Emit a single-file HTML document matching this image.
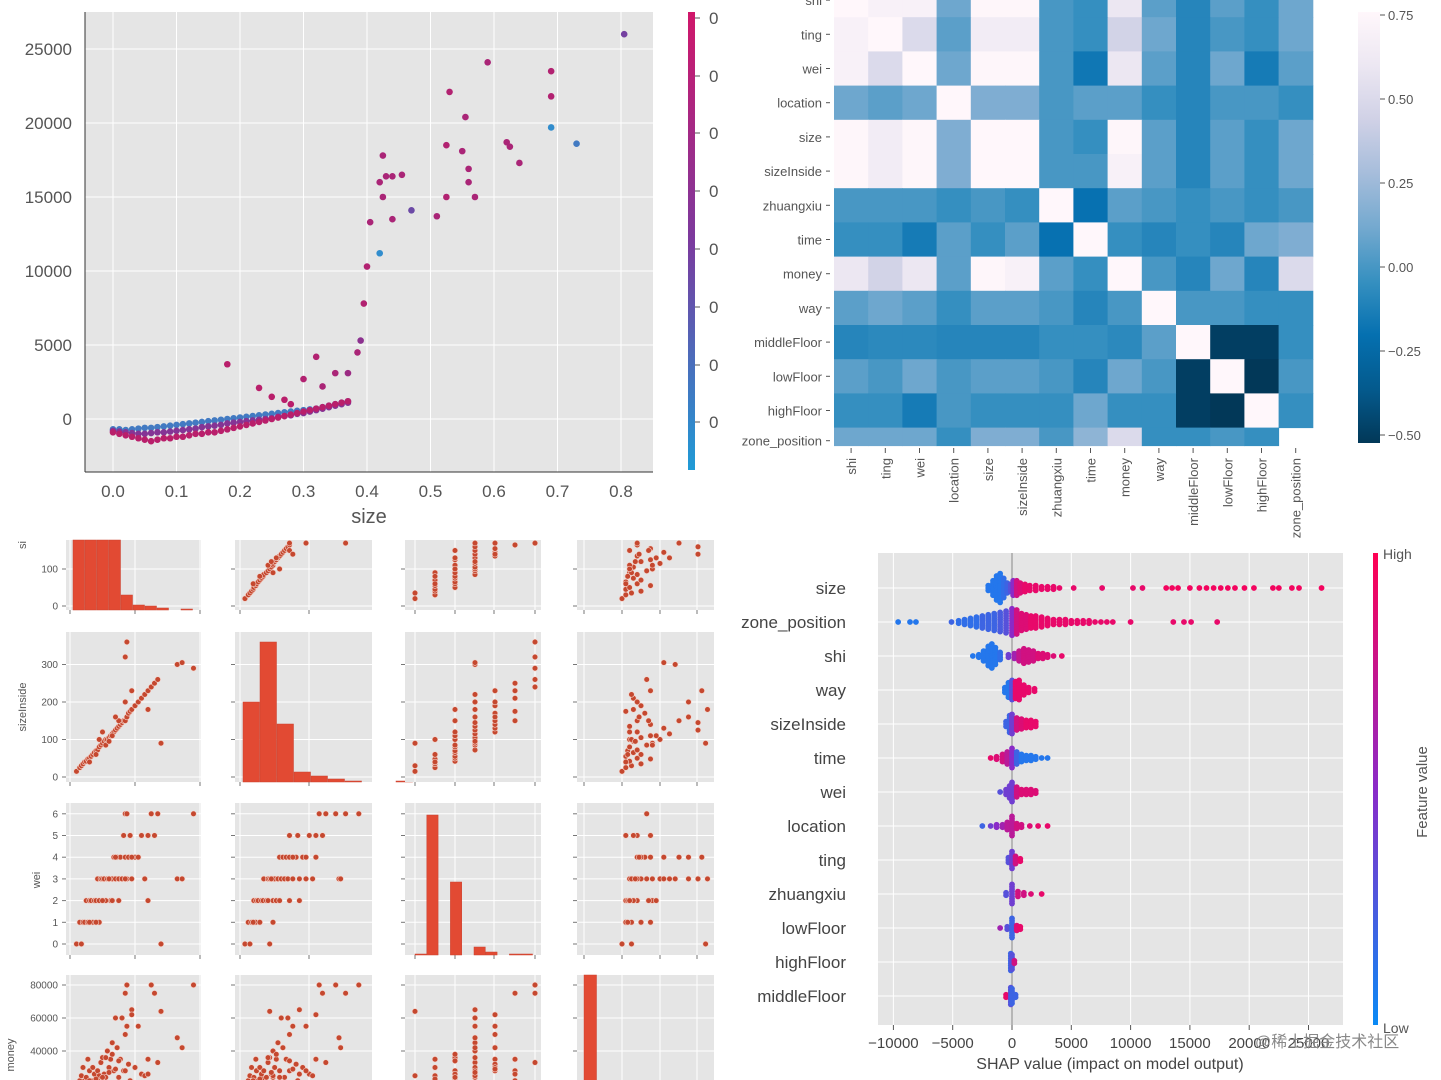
<!DOCTYPE html>
<html><head><meta charset="utf-8"><style>
html,body{margin:0;padding:0;background:#fff;}
svg{display:block;font-family:"Liberation Sans","DejaVu Sans","Noto Sans CJK SC",sans-serif;}
</style></head><body>
<svg id="c" width="1441" height="1080" viewBox="0 0 1441 1080">
<defs>
<linearGradient id="gDep" x1="0" y1="0" x2="0" y2="1"><stop offset="0" stop-color="#d0176a"/><stop offset="0.5" stop-color="#7b3a9e"/><stop offset="1" stop-color="#1f9bd6"/></linearGradient>
<linearGradient id="gShap" x1="0" y1="0" x2="0" y2="1"><stop offset="0" stop-color="#ff0052"/><stop offset="0.5" stop-color="#8a2bc8"/><stop offset="1" stop-color="#0a8af5"/></linearGradient>
<linearGradient id="gHeat" x1="0" y1="1" x2="0" y2="0"><stop offset="0" stop-color="#023858"/><stop offset="0.125" stop-color="#045a8d"/><stop offset="0.25" stop-color="#0570b0"/><stop offset="0.375" stop-color="#3690c0"/><stop offset="0.5" stop-color="#74a9cf"/><stop offset="0.625" stop-color="#a6bddb"/><stop offset="0.75" stop-color="#d0d1e6"/><stop offset="0.875" stop-color="#ece7f2"/><stop offset="1" stop-color="#fff7fb"/></linearGradient>
<clipPath id="clipDep"><rect x="85" y="12" width="568" height="460"/></clipPath>
</defs>
<g id="dep"></g>
<g id="heat"></g>
<g id="pair"></g>
<g id="shap"></g>
<text x="1255" y="1047" font-size="16" fill="#888">@稀土掘金技术社区</text>
</svg>
<script>
// ---------- data: dependence plot ----------
const depBandX=[0,0.01,0.02,0.03,0.04,0.05,0.06,0.07,0.08,0.09,0.10,0.11,0.12,0.13,0.14,0.15,0.16,0.17,0.18,0.19,0.20,0.21,0.22,0.23,0.24,0.25,0.26,0.27,0.28,0.29,0.30,0.31,0.32,0.33,0.34,0.35,0.36,0.37];
const depBandHigh=[-700,-700,-750,-700,-650,-600,-600,-550,-500,-450,-400,-350,-300,-250,-200,-150,-100,-50,0,50,100,150,200,250,300,350,400,450,500,550,600,650,700,800,900,1000,1100,1200];
const depBandMid=[-800,-850,-900,-950,-1000,-1000,-950,-900,-900,-850,-800,-750,-700,-650,-550,-500,-450,-400,-300,-250,-200,-150,-100,-50,0,50,150,200,250,350,400,500,600,700,800,900,1000,1100];
const depBandLow=[-900,-1000,-1100,-1200,-1300,-1400,-1500,-1400,-1300,-1300,-1200,-1200,-1100,-1000,-1000,-900,-900,-800,-700,-600,-500,-400,-300,-200,-100,0,100,200,300,400,500,600,700,800,900,1000,1100,1200];
const depOutX=[0.18,0.23,0.30,0.32,0.33,0.35,0.37,0.385,0.39,0.395,0.40,0.405,0.42,0.425,0.425,0.43,0.44,0.455,0.44,0.51,0.525,0.525,0.53,0.55,0.555,0.56,0.56,0.57,0.59,0.62,0.625,0.64,0.69,0.69,0.27,0.28,0.25,0.42,0.47,0.69,0.73,0.805];
const depOutY=[3700,2100,2700,4200,2200,3100,3100,4500,5300,7800,10300,13300,16000,17800,15000,16400,13500,16500,16400,13700,18500,15000,22100,18100,20400,16900,16000,15000,24100,18700,18400,17300,23500,21800,1300,1000,1500,11200,14100,19700,18600,26000];
const depOutC=[0.9,0.9,0.85,0.85,0.8,0.8,0.7,0.8,0.6,0.85,0.85,0.8,0.8,0.8,0.8,0.8,0.8,0.8,0.8,0.8,0.85,0.85,0.85,0.8,0.8,0.8,0.8,0.8,0.8,0.8,0.8,0.8,0.85,0.85,0.9,0.9,0.9,0.05,0.4,0.05,0.15,0.45];
const depXTicks=[0,0.1,0.2,0.3,0.4,0.5,0.6,0.7,0.8];
const depYTicks=[0,5000,10000,15000,20000,25000];

// ---------- data: heatmap ----------
const heatVars=["shi","ting","wei","location","size","sizeInside","zhuangxiu","time","money","way","middleFloor","lowFloor","highFloor","zone_position"];
const heatVals=[
[1,.7,.7,.1,.75,.75,0,-.05,.6,.05,-.1,.05,-.05,.1],
[.7,1,.5,.05,.65,.65,0,-.05,.45,.1,-.1,0,-.05,.1],
[.7,.5,1,.1,.75,.75,0,-.17,.6,.05,-.1,.1,-.15,.05],
[.1,.05,.1,1,.15,.15,0,.05,.05,-.05,-.1,0,0,-.05],
[.75,.65,.75,.15,1,.95,0,-.05,.75,.05,-.1,.05,-.05,.1],
[.75,.65,.75,.15,.95,1,0,0,.7,.05,-.1,.05,-.05,.1],
[0,0,0,-.05,0,-.05,1,-.2,.05,0,-.05,0,-.05,0],
[-.05,-.05,-.15,.05,-.05,.05,-.2,1,-.05,-.1,-.05,-.1,.1,.15],
[.6,.45,.6,.05,.75,.7,.05,-.05,1,0,-.1,.1,-.1,.5],
[.05,.1,.05,-.05,.05,.05,0,-.1,0,1,0,0,-.05,-.05],
[-.1,-.08,-.08,-.1,-.1,-.1,-.05,-.05,-.08,.05,1,-.5,-.5,-.05],
[.05,0,.1,0,.05,.05,0,-.1,.1,0,-.5,1,-.55,0],
[-.05,-.05,-.15,0,-.05,-.05,-.05,.1,-.05,-.05,-.5,-.55,1,-.05],
[.1,.1,.1,-.05,.15,.15,0,.2,.5,-.05,-.05,0,-.05,null]];
const heatTicks=[0.75,0.50,0.25,0.00,-0.25,-0.50];

// ---------- data: pair plot (size, sizeInside, wei, money/1000) ----------
const pairSize=[20,30,35,40,45,50,55,60,65,70,75,80,85,90,95,100,105,110,115,120,125,130,135,140,145,150,155,160,165,170,175,180,185,190,200,210,220,230,240,250,260,270,190,170,175,330,345,380,280,240,60,90,110,130,150,170,120,100,80,140];
const pairInside=[15,25,30,35,40,42,48,50,55,60,65,70,72,80,85,90,95,100,100,105,110,115,120,125,130,135,140,145,150,150,160,170,175,180,190,200,210,220,230,240,250,260,230,320,360,300,305,290,90,180,40,100,85,110,150,200,95,120,60,160];
const pairWei=[0,1,0,1,1,2,1,2,2,1,2,2,3,2,3,3,3,2,3,3,2,3,4,3,4,3,4,3,5,4,3,4,5,3,4,4,5,3,5,6,5,6,4,6,6,3,3,6,0,2,1,1,2,2,2,3,3,2,1,4];
const pairMoney=[20,22,25,30,22,24,35,28,22,30,26,23,28,24,33,36,26,24,40,30,35,45,28,60,42,24,35,60,28,50,55,32,22,65,30,55,26,25,35,80,75,33,62,75,80,48,42,80,64,26,22,25,36,38,34,28,27,24,23,29];
const histSize=[300,300,300,85,15,5,4,2,0,1,0];
const histInside=[80,140,58,10,6,3,1,0,0,1];
const histWei=[1,140,0,73,0,8,3,0,1,1];
const histMoney=[300,0,0,0,0,0,0,0,0,0];

// ---------- data: SHAP summary ----------
const shapFeatures=["size","zone_position","shi","way","sizeInside","time","wei","location","ting","zhuangxiu","lowFloor","highFloor","middleFloor"];
const shapPts=[
[[-2,.1,3],[-1.6,.1,7],[-1.3,.1,11],[-1,.1,13],[-0.7,.15,9],[-0.4,.2,5],[-0.1,.3,4],[0.1,.5,7],[0.4,.8,7],[0.7,.85,5],[1.1,.9,4],[1.5,.9,3],[2,.9,3],[2.5,.9,2],[3,.9,2],[3.5,.9,2],[4,.9,1],[5.2,.9,1],[7.6,.9,1],[10.2,.9,1],[11,.9,1],[13,.95,1],[13.5,.95,1],[14,.95,1],[15,.95,1],[15.8,.95,1],[16.4,.95,1],[17,.95,1],[17.6,.95,1],[18.2,.95,1],[18.8,.95,1],[19.6,.95,1],[20.4,.95,1],[22,.95,1],[22.5,.95,1],[23.6,.95,1],[24.2,.95,1],[26.1,.95,1]],
[[-9.6,.1,1],[-8.6,.1,1],[-8.1,.1,1],[-5.1,.2,1],[-4.5,.15,2],[-4,.15,3],[-3.5,.15,4],[-3,.15,5],[-2.5,.2,6],[-2,.2,7],[-1.5,.2,8],[-1,.25,9],[-0.5,.3,10],[0,.5,12],[0.4,.8,11],[0.8,.85,8],[1.2,.85,7],[1.6,.9,6],[2,.9,6],[2.5,.9,5],[3,.9,4],[3.5,.9,3],[4,.9,3],[4.5,.9,3],[5,.9,2],[5.5,.9,2],[6,.9,2],[6.5,.9,2],[7,.9,1],[7.5,.9,1],[8,.9,1],[8.5,.9,1],[10,.9,1],[13.6,.9,1],[14.5,.9,1],[15.1,.9,1],[17.3,.9,1]],
[[-3.3,.1,1],[-2.8,.1,2],[-2.4,.1,5],[-2,.1,9],[-1.7,.1,11],[-1.4,.1,8],[-1,.15,4],[-0.3,.4,2],[0.2,.6,3],[0.6,.75,5],[1,.8,7],[1.4,.8,6],[1.8,.8,5],[2.2,.85,3],[2.6,.85,3],[3,.85,2],[3.5,.85,1],[4.2,.9,1]],
[[-0.6,.1,3],[-0.3,.1,7],[0,.3,9],[0.3,.9,8],[0.6,.9,9],[1,.9,5],[1.4,.9,3],[1.9,.9,2]],
[[-0.5,.2,3],[-0.2,.2,8],[0,.4,9],[0.4,.8,6],[0.8,.85,5],[1.2,.9,4],[1.6,.9,4],[2,.9,3]],
[[-1.8,.9,1],[-1.3,.85,2],[-0.8,.8,4],[-0.4,.7,6],[0,.5,9],[0.4,.2,6],[0.8,.1,4],[1.2,.1,3],[1.6,.1,3],[2,.1,2],[2.5,.1,1],[3,.1,1]],
[[-1,.3,1],[-0.5,.4,3],[-0.2,.4,6],[0,.4,9],[0.4,.8,5],[0.8,.85,3],[1.2,.85,3],[1.6,.85,3],[2,.85,2]],
[[-2.5,.2,1],[-1.8,.4,1],[-1.3,.5,2],[-0.8,.6,2],[-0.4,.7,4],[0,.7,9],[0.4,.8,3],[0.8,.8,2],[1.5,.85,1],[2.2,.9,1],[3,.9,1]],
[[-0.3,.3,3],[0,.4,8],[0.3,.8,4],[0.7,.9,2]],
[[-0.5,.3,2],[0,.4,9],[0.5,.8,3],[1,.8,2],[1.6,.85,1],[2.5,.9,1]],
[[-1,.6,1],[-0.4,.3,2],[0,.2,9],[0.4,.85,3],[0.7,.9,2]],
[[-0.1,.2,8],[0,.3,7],[0.2,.8,2]],
[[-0.5,.9,2],[-0.1,.3,8],[0,.2,7],[0.3,.2,2]]];
const shapTicks=[-10000,-5000,0,5000,10000,15000,20000,25000];

// ---------- helpers ----------
const NS="http://www.w3.org/2000/svg";
function mk(parent,tag,attrs,text){const e=document.createElementNS(NS,tag);for(const k in attrs)e.setAttribute(k,attrs[k]);if(text!==undefined)e.textContent=text;parent.appendChild(e);return e;}
function lerp(a,b,t){return a+(b-a)*t;}
function mix(c1,c2,t){return "rgb("+[0,1,2].map(i=>Math.round(lerp(c1[i],c2[i],t))).join(",")+")";}
function depColor(c){const b=[40,150,210],p=[125,55,155],r=[200,25,95];return c<0.5?mix(b,p,c*2):mix(p,r,(c-0.5)*2);}
function shapColor(c){const b=[10,138,245],p=[138,43,200],r=[255,0,82];return c<0.5?mix(b,p,c*2):mix(p,r,(c-0.5)*2);}
const heatStops=[[2,56,88],[4,90,141],[5,112,176],[54,144,192],[116,169,207],[166,189,219],[208,209,230],[236,231,242],[255,247,251]];
const hMin=-0.53,hMax=0.76;
function heatColor(v){let t=(v-hMin)/(hMax-hMin);t=Math.max(0,Math.min(1,t));const f=t*8,i=Math.min(7,Math.floor(f));return mix(heatStops[i],heatStops[i+1],f-i);}

// ---------- dependence plot ----------
(function(){
const g=document.getElementById('dep');
const xs=v=>113+v*635, ys=v=>419-v*0.0148;
mk(g,'rect',{x:85,y:12,width:568,height:460,fill:'#e5e5e5'});
depXTicks.forEach(t=>{mk(g,'line',{x1:xs(t),x2:xs(t),y1:12,y2:472,stroke:'#fff','stroke-width':1});
 const l=mk(g,'text',{x:xs(t),y:497,'font-size':17,fill:'#555','text-anchor':'middle'},t.toFixed(1));
 
 });
depYTicks.forEach(t=>{mk(g,'line',{x1:85,x2:653,y1:ys(t),y2:ys(t),stroke:'#fff','stroke-width':1});
 const l=mk(g,'text',{x:72,y:ys(t)+6,'font-size':17,fill:'#555','text-anchor':'end'},String(t));
 
 });
mk(g,'line',{x1:85,x2:85,y1:12,y2:472,stroke:'#333'});
mk(g,'line',{x1:85,x2:653,y1:472,y2:472,stroke:'#333'});
const xl=mk(g,'text',{x:369,y:523,'font-size':20,fill:'#555','text-anchor':'middle'},'size');


const pts=mk(g,'g',{'clip-path':'url(#clipDep)'});


[[depBandHigh,0.15],[depBandMid,0.55],[depBandLow,0.9]].forEach(([arr,c])=>{
 depBandX.forEach((x,i)=>{const p=mk(pts,'circle',{cx:xs(x),cy:ys(arr[i]),r:3.3,fill:depColor(c)});
 
 });});
depOutX.forEach((x,i)=>{const p=mk(pts,'circle',{cx:xs(x),cy:ys(depOutY[i]),r:3.3,fill:depColor(depOutC[i])});
 
 });
const cb=mk(g,'rect',{x:688,y:12,width:7,height:458,fill:'url(#gDep)'});


[18,76,133,191,249,307,365,422].forEach(y=>{mk(g,'line',{x1:695,x2:700,y1:y,y2:y,stroke:'#555'});
 mk(g,'text',{x:709,y:y+6,'font-size':17,fill:'#555'},'0');});
})();

// ---------- heatmap ----------
(function(){
const g=document.getElementById('heat');
const x0=834,cw=34.2,y0=-17,ch=34.2;
heatVals.forEach((row,r)=>{row.forEach((v,c)=>{if(v===null)return;
 const h=r===13?18:ch;
 const cell=mk(g,'rect',{x:x0+c*cw,y:y0+r*ch,width:cw+0.5,height:h+0.5,fill:heatColor(v)});
 
 });});
heatVars.forEach((n,i)=>{
 const yl=mk(g,'text',{x:822,y:y0+i*ch+ch/2+5-(i===13?4:0),'font-size':13,fill:'#555','text-anchor':'end'},n);
 
 
 mk(g,'line',{x1:826,x2:830,y1:y0+i*ch+ch/2-(i===13?4:0),y2:y0+i*ch+ch/2-(i===13?4:0),stroke:'#555'});
 const cx=x0+i*cw+cw/2;
 mk(g,'line',{x1:cx,x2:cx,y1:448,y2:453,stroke:'#555'});
 const xl=mk(g,'text',{x:0,y:0,'font-size':13,fill:'#555','text-anchor':'end',transform:`translate(${cx+5},458) rotate(-90)`},n);
 
 });
const cb=mk(g,'rect',{x:1358,y:12,width:22,height:431,fill:'url(#gHeat)'});


heatTicks.forEach(t=>{const y=267-t*336;mk(g,'line',{x1:1380,x2:1385,y1:y,y2:y,stroke:'#555'});
 const l=mk(g,'text',{x:1388,y:y+5,'font-size':13,fill:'#555'},(t<0?'\u2212':'')+Math.abs(t).toFixed(2));
 
 });
})();

// ---------- pair plot ----------
(function(){
const g=document.getElementById('pair');
const cols=[[66,201],[235,372],[405,541],[577,714]];
const rows=[[530,610],[632,782],[803,955],[975,1090]];
const vars=[pairSize,pairInside,pairWei,pairMoney];
const xsc=[v=>70+v*0.325,v=>240+v*0.33,v=>415+v*20,v=>584+v*1.9];
const ysc=[v=>606-v*0.37,v=>777-v*0.375,v=>944-v*21.7,v=>1117-v*1.65];
const hists=[histSize,histInside,histWei,histMoney];
const histStart=[73,243,415,584],histW=[12,17,11.8,13];
const gridX=[[70,135,200],[240,309],[415,455,494,535],[584,622,660,697]];
const yT=[[0,100],[0,100,200,300],[0,1,2,3,4,5,6],[40000,60000,80000]];
mk(g,'rect',{x:0,y:530,width:720,height:10,fill:'#fff'});
for(let r=0;r<4;r++)for(let c=0;c<4;c++){
 const [xa,xb]=cols[c],[ya,yb]=rows[r];
 const top=Math.max(ya,540);
 const cg=mk(g,'g',{});
 
 
 mk(cg,'rect',{x:xa,y:top,width:xb-xa,height:Math.min(yb,1080)-top,fill:'#e5e5e5'});
 gridX[c].forEach(x=>{mk(cg,'line',{x1:x,x2:x,y1:top,y2:yb,stroke:'#fff'});mk(cg,'line',{x1:x,x2:x,y1:yb,y2:yb+4,stroke:'#777'});});
 yT[r].forEach(t=>{const y=ysc[r](r===3?t/1000:t);if(y<top||y>yb)return;mk(cg,'line',{x1:xa,x2:xb,y1:y,y2:y,stroke:'#fff'});mk(cg,'line',{x1:xa-4,x2:xa,y1:y,y2:y,stroke:'#777'});});
 if(r===c){
  hists[r].forEach((n,i)=>{if(!n)return;const bt=Math.max(top,yb-n);
   const b=mk(cg,'rect',{x:histStart[c]+i*histW[c],y:bt,width:histW[c]-0.5,height:yb-bt,fill:'#E24A33',stroke:'#c94330','stroke-width':0.5});
   
   });
 } else {
  vars[c].forEach((xv,i)=>{const x=xsc[c](xv),y=ysc[r](vars[r][i]);if(y<top+2||y>yb||x<xa||x>xb)return;
   const p=mk(cg,'circle',{cx:x,cy:y,r:2.8,fill:'#c5482f',stroke:'#f3d3cb','stroke-width':0.6});
   
   });
 }
 if(c===0){yT[r].forEach(t=>{const y=ysc[r](r===3?t/1000:t);if(y<top||y>1080)return;
  mk(g,'text',{x:58,y:y+3.5,'font-size':10,fill:'#555','text-anchor':'end'},String(t));});}
}
const lab=[['sizeInside',26,707],['wei',40,880],['money',14,1055],['si',26,545]];
lab.forEach(([t,x,y])=>{const e=mk(g,'text',{x:0,y:0,'font-size':11,fill:'#555','text-anchor':'middle',transform:`translate(${x},${y}) rotate(-90)`},t);
 
 });
})();

// ---------- SHAP ----------
(function(){
const g=document.getElementById('shap');
const xs=v=>1012+v*0.01186;
mk(g,'rect',{x:878,y:553,width:465,height:472,fill:'#e5e5e5'});
shapTicks.forEach(t=>{mk(g,'line',{x1:xs(t),x2:xs(t),y1:553,y2:1025,stroke:'#fff'});});
shapFeatures.forEach((f,i)=>{const y=588+i*34;mk(g,'line',{x1:878,x2:1343,y1:y,y2:y,stroke:'#fff','stroke-width':1});
 const l=mk(g,'text',{x:846,y:y+6,'font-size':17,fill:'#444','text-anchor':'end'},f);
 
 });
mk(g,'line',{x1:1012,x2:1012,y1:553,y2:1025,stroke:'#888'});
shapPts.forEach((pts,i)=>{const yc=588+i*34;
 const fg=mk(g,'g',{});
 
 
 pts.forEach(([v,c,n])=>{for(let k=0;k<n;k++){
  const p=mk(fg,'circle',{cx:xs(v*1000),cy:yc+(k-(n-1)/2)*2.4,r:2.9,fill:shapColor(c)});
  
  }});});
shapTicks.forEach(t=>{const x=xs(t);mk(g,'line',{x1:x,x2:x,y1:1025,y2:1030,stroke:'#555'});
 const l=mk(g,'text',{x:x,y:1048,'font-size':15,fill:'#444','text-anchor':'middle'},(t<0?'\u2212':'')+Math.abs(t));
 
 });
const xt=mk(g,'text',{x:1110,y:1069,'font-size':16,fill:'#444','text-anchor':'middle'},'SHAP value (impact on model output)');


const cb=mk(g,'rect',{x:1373,y:553,width:5,height:472,fill:'url(#gShap)'});


mk(g,'text',{x:1383,y:559,'font-size':14,fill:'#555'},'High');
mk(g,'text',{x:1383,y:1033,'font-size':14,fill:'#555'},'Low');
const fv=mk(g,'text',{x:0,y:0,'font-size':15,fill:'#555','text-anchor':'middle',transform:'translate(1427,792) rotate(-90)'},'Feature value');


})();
</script>
</body></html>
